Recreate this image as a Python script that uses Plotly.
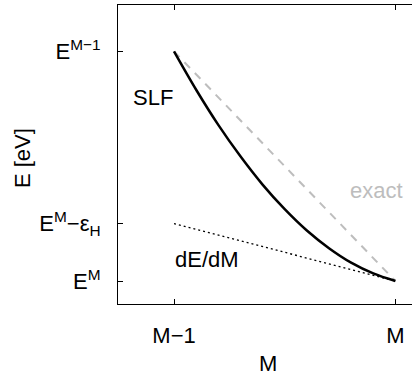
import plotly.graph_objects as go

# Particle number axis: 0 -> M-1, 1 -> M
m_slf = [0.0, 0.1, 0.2, 0.3, 0.4, 0.5, 0.6, 0.7, 0.8, 0.9, 1.0]
e_slf = [1.0, 0.833, 0.68, 0.543, 0.42, 0.313, 0.22, 0.143, 0.08, 0.033, 0.0]

m_exact = [0.0, 1.0]
e_exact = [1.0, 0.0]

m_tangent = [0.0, 1.0]
e_tangent = [0.25, 0.0]

x_tickvals = [0.0, 1.0]
x_ticktext = ["M−1", "M"]
y_tickvals = [0.0, 0.25, 1.0]
y_ticktext = ["E<sup>M</sup>", "E<sup>M</sup>−ε<sub>H</sub>", "E<sup>M−1</sup>"]

FONT = "Liberation Sans, Arial, Helvetica, sans-serif"
FS = 22

fig = go.Figure()
fig.add_trace(go.Scatter(x=m_exact, y=e_exact, mode="lines",
                         line=dict(color="#bdbdbd", width=2, dash="8px,7px")))
fig.add_trace(go.Scatter(x=m_tangent, y=e_tangent, mode="lines",
                         line=dict(color="black", width=1.3, dash="2px,3px")))
fig.add_trace(go.Scatter(x=m_slf, y=e_slf, mode="lines", line_shape="spline",
                         line=dict(color="black", width=2.5)))

fig.update_layout(
    width=412, height=374,
    margin=dict(l=118, r=0, t=5, b=70),
    paper_bgcolor="white", plot_bgcolor="white",
    showlegend=False,
    font=dict(family=FONT, size=FS, color="black"),
    xaxis=dict(range=[-0.253, 1.075], tickvals=x_tickvals, ticktext=x_ticktext,
               showgrid=False, zeroline=False, showline=True, linecolor="black",
               linewidth=1, mirror="ticks", ticks="inside", ticklen=5,
               tickcolor="black", ticklabelstandoff=12),
    yaxis=dict(range=[-0.1, 1.202], tickvals=y_tickvals, ticktext=y_ticktext,
               showgrid=False, zeroline=False, showline=True, linecolor="black",
               linewidth=1, ticks="inside", ticklen=5, tickcolor="black",
               ticklabelstandoff=12),
    annotations=[
        dict(text="SLF", x=-0.096, y=0.80, xref="x", yref="y", showarrow=False,
             xanchor="center", yanchor="middle"),
        dict(text="exact", x=0.914, y=0.394, xref="x", yref="y", showarrow=False,
             xanchor="center", yanchor="middle", font=dict(color="#bdbdbd")),
        dict(text="dE/dM", x=0.151, y=0.094, xref="x", yref="y", showarrow=False,
             xanchor="center", yanchor="middle"),
        dict(text="M", x=0.510, y=-0.234, xref="paper", yref="paper", showarrow=False,
             xanchor="center", yanchor="bottom", height=20, borderpad=0),
        dict(text="E [eV]", x=-0.3265, y=0.488, xref="paper", yref="paper",
             showarrow=False, textangle=-90, xanchor="center", yanchor="middle"),
    ],
)

fig.write_html("out.html")
